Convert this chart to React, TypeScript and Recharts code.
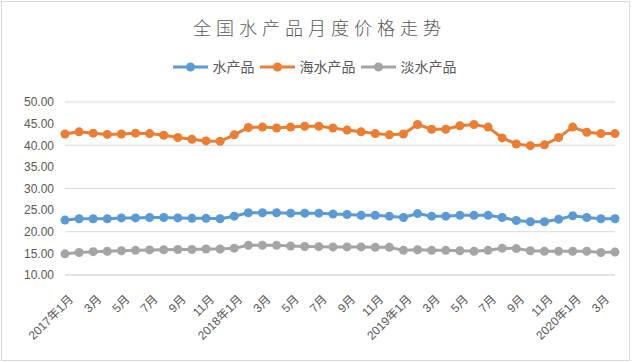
import React from 'react';
import { LineChart, Line, XAxis, YAxis, CartesianGrid } from 'recharts';

// monthly labels, 2017年1月 .. 2020年4月
const months = [
  '2017年1月', '2月', '3月', '4月', '5月', '6月', '7月', '8月', '9月', '10月', '11月', '12月',
  '2018年1月', '2月', '3月', '4月', '5月', '6月', '7月', '8月', '9月', '10月', '11月', '12月',
  '2019年1月', '2月', '3月', '4月', '5月', '6月', '7月', '8月', '9月', '10月', '11月', '12月',
  '2020年1月', '2月', '3月', '4月',
];

const aquatic = [
  22.7, 23.0, 23.0, 23.0, 23.2, 23.2, 23.3, 23.3, 23.2, 23.1, 23.1, 23.0,
  23.6, 24.4, 24.4, 24.4, 24.3, 24.3, 24.3, 24.1, 24.0, 23.8, 23.8, 23.6,
  23.3, 24.2, 23.6, 23.6, 23.8, 23.8, 23.8, 23.3, 22.6, 22.3, 22.3, 22.9,
  23.7, 23.3, 23.0, 23.0,
];

const marine = [
  42.6, 43.1, 42.8, 42.5, 42.6, 42.8, 42.7, 42.3, 41.8, 41.4, 41.0, 40.9,
  42.4, 44.1, 44.2, 44.0, 44.2, 44.4, 44.4, 44.0, 43.5, 43.1, 42.7, 42.4,
  42.6, 44.8, 43.7, 43.7, 44.5, 44.8, 44.2, 41.7, 40.3, 39.9, 40.1, 41.8,
  44.2, 43.0, 42.7, 42.7,
];

const freshwater = [
  14.9, 15.2, 15.4, 15.5, 15.6, 15.7, 15.8, 15.85, 15.9, 15.9, 16.0, 16.0,
  16.2, 16.85, 16.85, 16.85, 16.7, 16.6, 16.55, 16.5, 16.5, 16.5, 16.4, 16.4,
  15.7, 15.85, 15.7, 15.7, 15.6, 15.5, 15.7, 16.2, 16.1, 15.6, 15.5, 15.5,
  15.5, 15.5, 15.2, 15.3,
];

const yTicks = [10, 15, 20, 25, 30, 35, 40, 45, 50];

const series = [
  { key: 'aquatic', name: '水产品', color: '#5B9BD5' },
  { key: 'marine', name: '海水产品', color: '#ED7D31' },
  { key: 'freshwater', name: '淡水产品', color: '#A5A5A5' },
];

const data = months.map((m, i) => ({
  month: m,
  aquatic: aquatic[i],
  marine: marine[i],
  freshwater: freshwater[i],
}));

const FONT = '"Liberation Sans", "Noto Sans CJK SC", sans-serif';

const XTick = (props: any) => {
  const { x, y, payload } = props;
  return (
    <text
      transform={`translate(${x + 9},${y + 17}) rotate(-45)`}
      textAnchor="end"
      fontSize={12}
      fill="#595959"
      fontFamily={FONT}
    >
      {payload.value}
    </text>
  );
};

export default function App() {
  return (
    <div style={{ position: 'fixed', left: 0, top: 0, width: 634, height: 362, background: '#fff' }}>
      {/* outer frame */}
      <div
        style={{
          position: 'absolute', left: 1, top: 1, width: 627, height: 358,
          border: '1px solid #d9d9d9',
        }}
      />
      <div
        style={{
          position: 'absolute', left: 0, top: 13, width: 634, textAlign: 'center',
          fontFamily: '"Noto Sans CJK SC", sans-serif', fontWeight: 300,
          fontSize: 18, letterSpacing: 5, color: '#595959', lineHeight: '28px',
          paddingLeft: 5, boxSizing: 'border-box',
        }}
      >
        全国水产品月度价格走势
      </div>
      {/* legend */}
      <div
        style={{
          position: 'absolute', left: 0, top: 56, width: 634, display: 'flex',
          justifyContent: 'center', alignItems: 'center', fontFamily: FONT,
          fontSize: 14, color: '#595959', lineHeight: '22px',
        }}
      >
        {series.map((s) => (
          <div key={s.key} style={{ display: 'flex', alignItems: 'center', marginRight: 5 }}>
            <svg width={35} height={12} style={{ marginRight: 5 }}>
              <line x1={0} y1={6} x2={35} y2={6} stroke={s.color} strokeWidth={3} />
              <circle cx={17.5} cy={6} r={4.5} fill={s.color} />
            </svg>
            <span>{s.name}</span>
          </div>
        ))}
      </div>
      <div style={{ position: 'absolute', left: 0, top: 0 }}>
        <LineChart
          width={634}
          height={362}
          data={data}
          margin={{ top: 102, right: 19, bottom: 0, left: 0 }}
        >
          <CartesianGrid vertical={false} stroke="#d9d9d9" />
          <XAxis
            dataKey="month"
            interval={1}
            tickLine={false}
            axisLine={{ stroke: '#d9d9d9' }}
            height={87}
            tick={<XTick />}
          />
          <YAxis
            domain={[10, 50]}
            ticks={yTicks}
            width={65}
            axisLine={false}
            tickLine={false}
            tickMargin={5}
            tickFormatter={(v: number) => v.toFixed(2)}
            tick={{ fontSize: 12, fill: '#595959', fontFamily: FONT }}
          />
          {series.map((s) => (
            <Line
              key={s.key}
              dataKey={s.key}
              name={s.name}
              stroke={s.color}
              strokeWidth={3}
              dot={{ r: 4.5, fill: s.color, stroke: s.color, strokeWidth: 0 }}
              isAnimationActive={false}
            />
          ))}
        </LineChart>
      </div>
    </div>
  );
}
